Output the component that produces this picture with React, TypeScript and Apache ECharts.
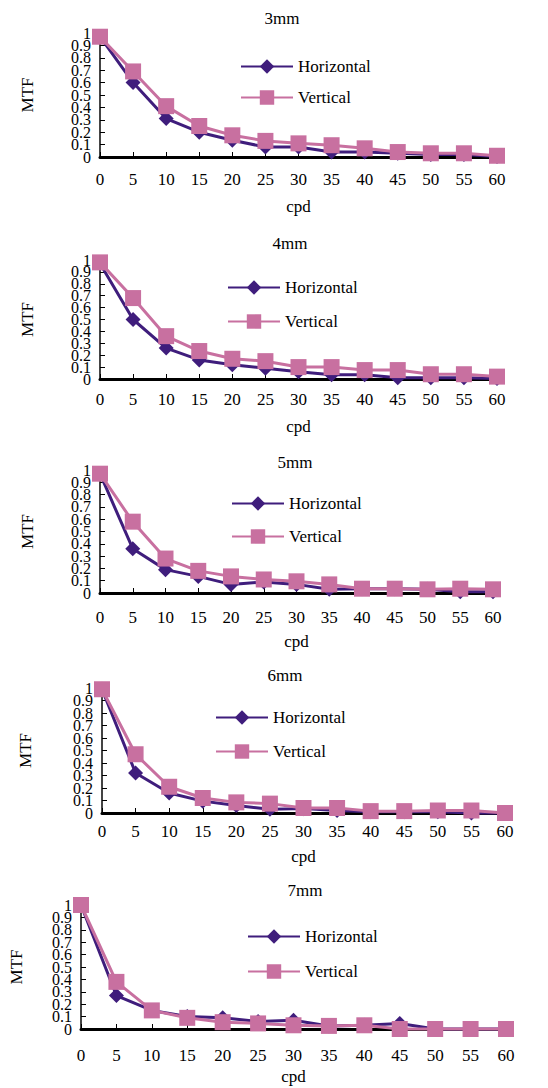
import React, { useEffect, useRef } from "react";
import * as echarts from "echarts";

const cpd = ["0", "5", "10", "15", "20", "25", "30", "35", "40", "45", "50", "55", "60"];
const titles = ["3mm", "4mm", "5mm", "6mm", "7mm"];

const h3 = [0.97, 0.6, 0.31, 0.2, 0.135, 0.08, 0.08, 0.04, 0.04, 0.03, 0.02, 0.02, 0.005];
const v3 = [0.97, 0.69, 0.41, 0.25, 0.175, 0.13, 0.11, 0.095, 0.07, 0.04, 0.03, 0.03, 0.01];
const h4 = [0.97, 0.5, 0.26, 0.16, 0.12, 0.09, 0.06, 0.035, 0.035, 0.01, 0.01, 0.01, 0.005];
const v4 = [0.98, 0.68, 0.36, 0.235, 0.17, 0.15, 0.1, 0.1, 0.075, 0.075, 0.04, 0.04, 0.02];
const h5 = [0.97, 0.36, 0.19, 0.135, 0.07, 0.09, 0.07, 0.03, 0.035, 0.035, 0.03, 0.01, 0.01];
const v5 = [0.97, 0.58, 0.28, 0.18, 0.135, 0.11, 0.095, 0.07, 0.035, 0.035, 0.03, 0.035, 0.03];
const h6 = [0.99, 0.32, 0.16, 0.095, 0.06, 0.03, 0.035, 0.02, 0.01, 0.01, 0.01, 0, 0];
const v6 = [0.99, 0.47, 0.21, 0.12, 0.085, 0.075, 0.04, 0.04, 0.015, 0.015, 0.02, 0.02, 0];
const h7 = [1.0, 0.27, 0.15, 0.1, 0.09, 0.06, 0.07, 0.025, 0.03, 0.045, 0, 0, 0];
const v7 = [1.0, 0.38, 0.15, 0.09, 0.055, 0.045, 0.03, 0.025, 0.03, 0, 0, 0, 0];

const horizontal = [h3, h4, h5, h6, h7];
const vertical = [v3, v4, v5, v6, v7];

const FONT = "Liberation Serif";
const H_COLOR = "#3f1d7c";
const V_COLOR = "#c870a0";

// layout per panel
const panels = [
  { left: 100, top: 33, width: 397, height: 124, titleX: 282, titleY: 18, labelMargin: 14, nameGap: 41, yNameGap: 64, legX: 240, legY: 58, legGap: 14 },
  { left: 100, top: 260, width: 397, height: 119, titleX: 290, titleY: 243, labelMargin: 12, nameGap: 39, yNameGap: 64, legX: 227, legY: 279, legGap: 17 },
  { left: 100, top: 470, width: 393, height: 123, titleX: 295, titleY: 462, labelMargin: 16, nameGap: 40, yNameGap: 64, legX: 231, legY: 495, legGap: 16 },
  { left: 102, top: 688, width: 403, height: 125, titleX: 285, titleY: 675, labelMargin: 10, nameGap: 35, yNameGap: 68, legX: 215, legY: 709, legGap: 17 },
  { left: 80, top: 905, width: 426, height: 124, titleX: 305, titleY: 890, labelMargin: 18, nameGap: 39, yNameGap: 56, legX: 247, legY: 928, legGap: 18 },
];

const fmt = (v: number) => String(Math.round(v * 10) / 10);
const isEvenTenth = (v: number) => Math.round(v * 10) % 2 === 0;

export default function App() {
  const ref = useRef<HTMLDivElement>(null);

  useEffect(() => {
    if (!ref.current) return;
    const chart = echarts.init(ref.current, undefined, { renderer: "svg" });

    const yLabelStyle = { fontFamily: FONT, fontSize: 16, color: "#000", margin: 9 };

    const option: any = {
      animation: false,
      backgroundColor: "#ffffff",
      textStyle: { fontFamily: FONT },
      title: panels.map((p, i) => ({
        text: titles[i],
        left: p.titleX,
        top: p.titleY,
        textAlign: "center",
        textVerticalAlign: "middle",
        padding: 0,
        textStyle: { fontFamily: FONT, fontSize: 17, fontWeight: "normal", color: "#000" },
      })),
      legend: panels.map((p) => ({
        data: ["Horizontal", "Vertical"],
        orient: "vertical",
        left: p.legX,
        top: p.legY,
        padding: 0,
        itemWidth: 52,
        itemHeight: 18,
        itemGap: p.legGap,
        selectedMode: false,
        textStyle: { fontFamily: FONT, fontSize: 17, color: "#000", padding: [0, 0, 0, 0] },
      })),
      grid: panels.map((p) => ({
        left: p.left,
        top: p.top,
        width: p.width,
        height: p.height,
        containLabel: false,
      })),
      xAxis: panels.map((p, i) => ({
        type: "category",
        gridIndex: i,
        data: cpd,
        boundaryGap: false,
        name: "cpd",
        nameLocation: "middle",
        nameGap: p.nameGap,
        nameTextStyle: { fontFamily: FONT, fontSize: 17, color: "#000" },
        axisLine: { lineStyle: { color: "#000", width: 3 } },
        axisTick: { inside: true, length: 5, lineStyle: { color: "#000", width: 1 } },
        axisLabel: { fontFamily: FONT, fontSize: 17, color: "#000", margin: p.labelMargin, interval: 0 },
        splitLine: { show: false },
      })),
      yAxis: panels.flatMap((p, i) => [
        {
          // main axis: line, even labels (0, 0.2, ... 1)
          type: "value",
          gridIndex: i,
          position: "left",
          offset: 0,
          min: 0,
          max: 1,
          interval: 0.2,
          name: "MTF",
          nameLocation: "middle",
          nameGap: p.yNameGap,
          nameTextStyle: { fontFamily: FONT, fontSize: 17, color: "#000" },
          axisLine: { show: true, lineStyle: { color: "#444", width: 2 } },
          axisTick: { show: true, inside: true, length: 5, lineStyle: { color: "#000", width: 1 } },
          axisLabel: { ...yLabelStyle, showMinLabel: true, showMaxLabel: true, formatter: fmt },
          splitLine: { show: false },
        },
        {
          // companion axis: odd labels (0.1, 0.3, ... 0.9) and their ticks
          type: "value",
          gridIndex: i,
          position: "left",
          offset: 0,
          min: 0,
          max: 1,
          interval: 0.1,
          axisLine: { show: false },
          axisTick: { show: true, inside: true, length: 5, lineStyle: { color: "#000", width: 1 } },
          axisLabel: {
            ...yLabelStyle,
            showMinLabel: false,
            showMaxLabel: false,
            formatter: (v: number) => (isEvenTenth(v) ? "" : fmt(v)),
          },
          splitLine: { show: false },
        },
      ]),
      series: panels.flatMap((p, i) => [
        {
          name: "Horizontal",
          type: "line",
          xAxisIndex: i,
          yAxisIndex: 2 * i,
          data: horizontal[i],
          symbol: "diamond",
          symbolSize: 15,
          showAllSymbol: true,
          itemStyle: { color: H_COLOR },
          lineStyle: { color: H_COLOR, width: 3 },
          clip: false,
          z: 2,
        },
        {
          name: "Vertical",
          type: "line",
          xAxisIndex: i,
          yAxisIndex: 2 * i,
          data: vertical[i],
          symbol: "rect",
          symbolSize: 16,
          showAllSymbol: true,
          itemStyle: { color: V_COLOR },
          lineStyle: { color: V_COLOR, width: 3 },
          clip: false,
          z: 3,
        },
      ]),
    };

    chart.setOption(option);
    return () => {
      chart.dispose();
    };
  }, []);

  return (
    <div
      ref={ref}
      style={{ position: "absolute", left: 0, top: 0, width: 548, height: 1088 }}
    />
  );
}
